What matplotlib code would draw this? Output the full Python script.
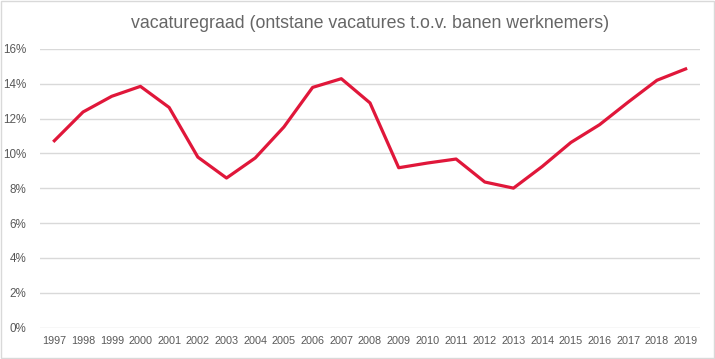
from matplotlib import pyplot as plt
from matplotlib.ticker import PercentFormatter
import numpy as np

plt.rcParams["font.family"] = ["Liberation Sans", "DejaVu Sans"]

# Data
years = [str(y) for y in range(1997, 2020)]
vacaturegraad = [
    10.73, 12.38, 13.28, 13.85, 12.64, 9.79, 8.59, 9.74, 11.52, 13.79, 14.29,
    12.90, 9.18, 9.45, 9.68, 8.36, 8.01, 9.25, 10.63, 11.65, 12.95, 14.20,
    14.85
]
y_ticks = [0, 2, 4, 6, 8, 10, 12, 14, 16]

text_color = "#595959"
grid_color = "#d9d9d9"
line_color = "#e0173a"

fig = plt.figure(figsize=(7.15, 3.59), dpi=100)
ax = fig.add_axes([40 / 715, 1 - 327.7 / 359, 660 / 715, (327.7 - 48.9) / 359])

x = np.arange(len(years))
ax.plot(x, vacaturegraad, color=line_color, linewidth=2.3,
        solid_joinstyle="round", zorder=3)

ax.set_xlim(-0.5, len(years) - 0.5)
ax.set_ylim(0, 16)
ax.set_yticks(y_ticks)
ax.yaxis.set_major_formatter(PercentFormatter(decimals=0))
ax.set_xticks(x)
ax.set_xticklabels(years)
ax.tick_params(axis="both", length=0, colors=text_color, labelsize=7.8)
ax.tick_params(axis="y", pad=10, labelsize=8.4)
ax.tick_params(axis="x", pad=6)
ax.grid(axis="y", color=grid_color, linewidth=1)
ax.set_axisbelow(True)
for side in ["top", "right", "left", "bottom"]:
    ax.spines[side].set_visible(False)

fig.text(0.518, 0.935, "vacaturegraad (ontstane vacatures t.o.v. banen werknemers)",
         ha="center", va="center", fontsize=12.8, color="#666666")

# light frame around the chart area
fig.patches.append(plt.Rectangle((0.001, 0.002), 0.997, 0.995, transform=fig.transFigure,
                                 fill=False, edgecolor=grid_color, linewidth=1))

plt.savefig("out.png", dpi=100)
